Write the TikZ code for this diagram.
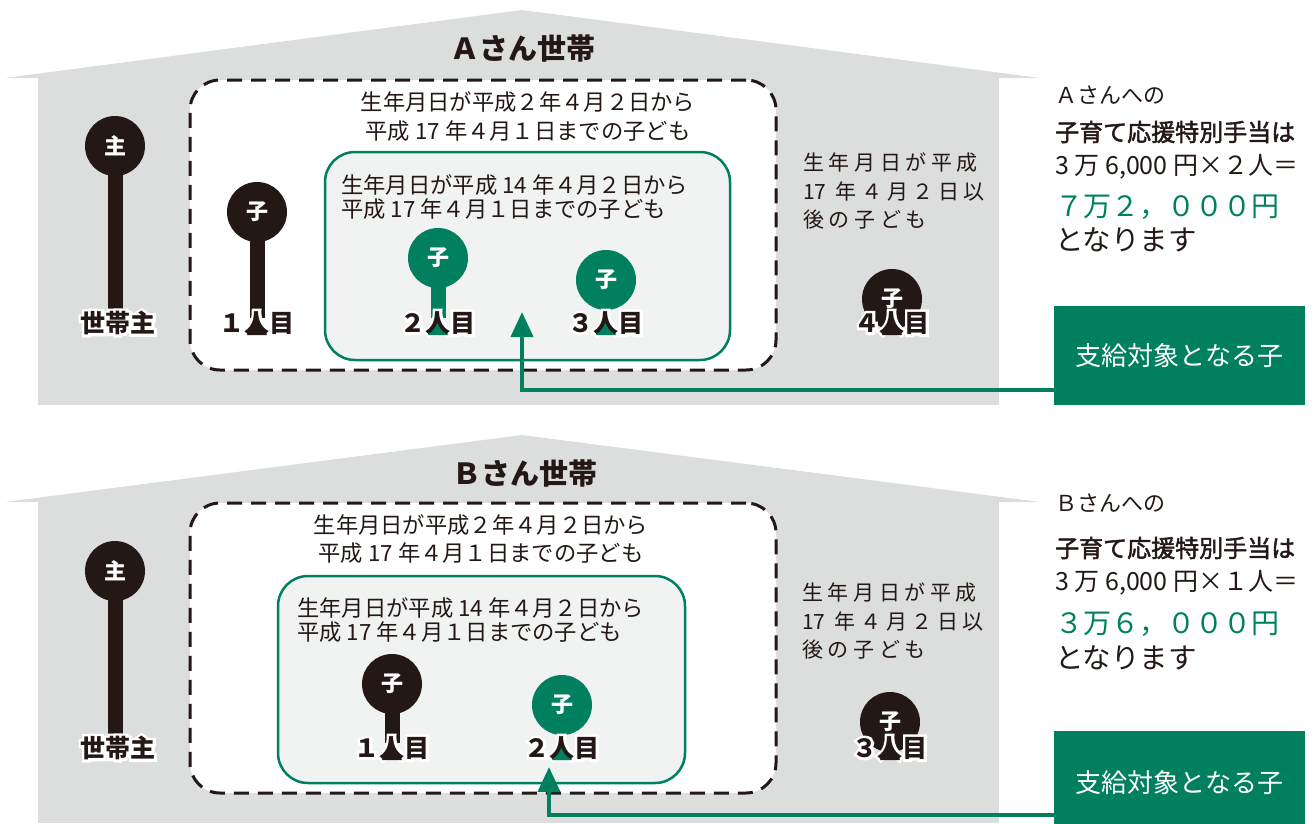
\documentclass[tikz,border=0pt]{standalone}
\usepackage{fontspec}
\setmainfont{Noto Sans CJK JP}
\usetikzlibrary{arrows.meta}
\definecolor{wallgray}{HTML}{DCDDDD}
\definecolor{ink}{HTML}{231815}
\definecolor{grn}{HTML}{00805F}
\definecolor{pale}{HTML}{F0F3F2}
\tikzset{
  wallfill/.style={fill=wallgray},
  dashbox/.style={draw=ink, line width=3pt, dash pattern=on 15pt off 9pt, rounded corners=30pt, fill=white, minimum width=586pt, minimum height=290pt, inner sep=0pt},
  greenbox/.style={draw=grn, line width=2.5pt, rounded corners=30pt, fill=pale, inner sep=0pt},
  titletext/.style={text=ink, inner sep=0pt, font=\bfseries\fontsize{29}{29}\selectfont},
  boxtext/.style={text=ink, inner sep=0pt, align=center, font=\fontsize{22.3}{28.5}\selectfont},
  grntext/.style={text=ink, inner sep=0pt, anchor=west, align=left, font=\fontsize{22.3}{24}\selectfont},
  sidetext/.style={text=ink, inner sep=0pt, anchor=west, align=left, font=\fontsize{21}{28.5}\selectfont\addfontfeature{LetterSpace=22}},
  info/.style={text=ink, inner sep=0pt, anchor=west},
  pinK/.style={circle, fill=ink, minimum size=60pt, inner sep=0pt, text=white, font=\bfseries\fontsize{22}{22}\selectfont},
  pinG/.style={pinK, fill=grn},
  stemK/.style={draw=ink, line width=15pt},
  stemG/.style={draw=grn, line width=15pt},
  lbl/.style={text=ink, inner sep=0pt, font=\bfseries\fontsize{25}{25}\selectfont},
  halo/.style={text=white, inner sep=0pt, font=\bfseries\fontsize{25}{25}\selectfont\addfontfeature{FakeBold=22}},
  payout/.style={fill=grn, text=white, inner sep=0pt, minimum width=251pt, font=\fontsize{26}{26}\selectfont},
  conn/.style={draw=grn, line width=4pt, -{Triangle[length=25pt,width=22pt]}},
}
\newcommand\halolabel[4]{%
  \node[halo] (#1h) at (#2,#3) {#4};%
}
\newcommand\pinfoot[3]{%
  \fill[#3] (#1-10,#2+12) -- (#1,#2-5) -- (#1+10,#2+12) -- cycle;%
}
\newcommand\tightnum[1]{{\addfontfeature{LetterSpace=0}#1}}
\begin{document}
\begin{tikzpicture}[x=1pt,y=-1pt]
\useasboundingbox (0,0) rectangle (1314,823);

% ---------------- House A ----------------
\fill[wallfill] (5,78) -- (522,10) -- (1040,78) -- cycle;
\fill[wallfill] (38,77) rectangle (999,405);
\node[titletext] (tA) at (523,48) {Ａさん世帯};
\node[dashbox] (dA) at (483,225) {};
\node[boxtext] (dtA) at (528,116.5) {生年月日が平成２年４月２日から\\平成 17 年４月１日までの子ども};
\node[greenbox, minimum width=405pt, minimum height=208pt] (gA) at (527.5,256) {};
\node[grntext] (gtA) at (341,197.5) {生年月日が平成 14 年４月２日から\\平成 17 年４月１日までの子ども};
\node[sidetext] (sA) at (803,191) {生年月日が平成\\\tightnum{17} 年４月２日以\\後の子ども};

% pins A
\node[pinK] (cA0) at (115,146) {主};
\coordinate (eA0) at (115,312);
\draw[stemK] ([yshift=10pt]cA0.south) -- (eA0);
\node[pinK] (cA1) at (257,212) {子};
\coordinate (eA1) at (257,318);
\draw[stemK] ([yshift=10pt]cA1.south) -- (eA1);
\node[pinG] (cA2) at (438,258) {子};
\coordinate (eA2) at (438,318);
\draw[stemG] ([yshift=10pt]cA2.south) -- (eA2);
\node[pinG] (cA3) at (606,280) {子};
\node[pinK] (cA4) at (892,299) {子};

\halolabel{lA0}{118}{323}{世帯主}
\halolabel{lA1}{257}{323}{１人目}
\halolabel{lA2}{438}{323}{２人目}
\halolabel{lA3}{606}{323}{３人目}
\halolabel{lA4}{892}{323}{４人目}
\pinfoot{257}{323}{ink}
\pinfoot{438}{323}{grn}
\pinfoot{606}{323}{grn}
\pinfoot{892}{323}{ink}
\node[lbl] (lA0) at (118,323) {世帯主};
\node[lbl] (lA1) at (257,323) {１人目};
\node[lbl] (lA2) at (438,323) {２人目};
\node[lbl] (lA3) at (606,323) {３人目};
\node[lbl] (lA4) at (892,323) {４人目};

% right info A
\node[info, font=\fontsize{22}{22}\selectfont] (iA1) at (1055,95) {Ａさんへの};
\node[info, font=\fontsize{24}{24}\selectfont\addfontfeature{FakeBold=2}] (iA2) at (1055,132) {子育て応援特別手当は};
\node[info, font=\fontsize{25}{25}\selectfont] (iA3) at (1055,167) {3 万 6,000 円×２人＝};
\node[info, text=grn, font=\fontsize{28}{28}\selectfont] (iA4) at (1055,207) {７万２，０００円};
\node[info, font=\fontsize{28.5}{28.5}\selectfont] (iA5) at (1055,240) {となります};

\node[payout, minimum height=99pt] (pA) at (1179.5,355.5) {支給対象となる子};
\coordinate (tipA) at (522,312);
\draw[conn] ([yshift=15pt]pA.south west) -| (tipA);

% ---------------- House B ----------------
\fill[wallfill] (5,502) -- (522,435) -- (1040,502) -- cycle;
\fill[wallfill] (38,501) rectangle (999,823);
\node[titletext] (tB) at (525,473) {Ｂさん世帯};
\node[dashbox] (dB) at (483,648) {};
\node[boxtext] (dtB) at (481,539) {生年月日が平成２年４月２日から\\平成 17 年４月１日までの子ども};
\node[greenbox, minimum width=407pt, minimum height=207pt] (gB) at (481.5,679.5) {};
\node[grntext] (gtB) at (297,620) {生年月日が平成 14 年４月２日から\\平成 17 年４月１日までの子ども};
\node[sidetext] (sB) at (802,621) {生年月日が平成\\\tightnum{17} 年４月２日以\\後の子ども};

% pins B
\node[pinK] (cB0) at (115,571) {主};
\coordinate (eB0) at (115,737);
\draw[stemK] ([yshift=10pt]cB0.south) -- (eB0);
\node[pinK] (cB1) at (392,684) {子};
\coordinate (eB1) at (392,743);
\draw[stemK] ([yshift=10pt]cB1.south) -- (eB1);
\node[pinG] (cB2) at (562,705) {子};
\node[pinK] (cB3) at (890,722) {子};

\halolabel{lB0}{118}{748}{世帯主}
\halolabel{lB1}{392}{748}{１人目}
\halolabel{lB2}{562}{748}{２人目}
\halolabel{lB3}{890}{748}{３人目}
\pinfoot{392}{748}{ink}
\pinfoot{562}{748}{grn}
\pinfoot{890}{748}{ink}
\node[lbl] (lB0) at (118,748) {世帯主};
\node[lbl] (lB1) at (392,748) {１人目};
\node[lbl] (lB2) at (562,748) {２人目};
\node[lbl] (lB3) at (890,748) {３人目};

% right info B
\node[info, font=\fontsize{22}{22}\selectfont] (iB1) at (1055,503) {Ｂさんへの};
\node[info, font=\fontsize{24}{24}\selectfont\addfontfeature{FakeBold=2}] (iB2) at (1055,548) {子育て応援特別手当は};
\node[info, font=\fontsize{25}{25}\selectfont] (iB3) at (1055,583) {3 万 6,000 円×１人＝};
\node[info, text=grn, font=\fontsize{28}{28}\selectfont] (iB4) at (1055,624) {３万６，０００円};
\node[info, font=\fontsize{28.5}{28.5}\selectfont] (iB5) at (1055,658) {となります};

\node[payout, minimum height=104pt] (pB) at (1179.5,783) {支給対象となる子};
\coordinate (tipB) at (549,767);
\draw[conn] ([yshift=20pt]pB.south west) -| (tipB);
\end{tikzpicture}
\end{document}
